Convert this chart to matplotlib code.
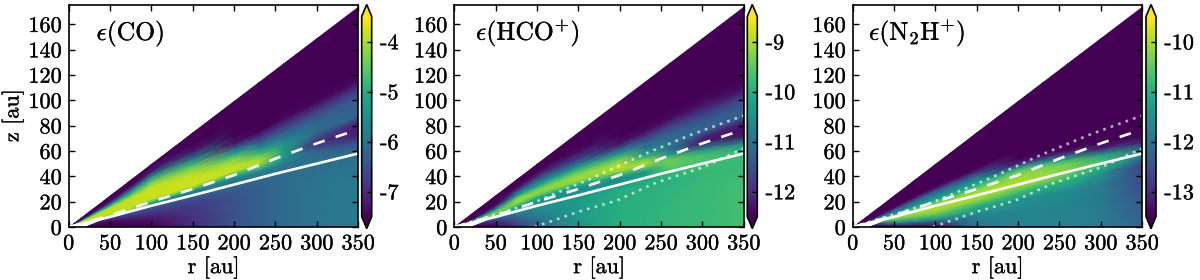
import numpy as np
import matplotlib
matplotlib.use("Agg")
import matplotlib.pyplot as plt
import matplotlib.patheffects as pe
from matplotlib.patches import Polygon

plt.rcParams['font.family'] = ['cmr10', 'DejaVu Serif']
plt.rcParams['mathtext.fontset'] = 'cm'
plt.rcParams['axes.unicode_minus'] = False
plt.rcParams['axes.formatter.use_mathtext'] = True

r_knots = [25, 50, 75, 100, 150, 200, 230, 260, 300, 350]
h_knots = [0, .06, .11, .14, .16, .175, .19, .205, .22, .235, .25, .27, .29, .31, .33, .36, .40, .44, .495]

# one list per r knot, running up the h knots
co = [
 [-7.5,-7.5,-7.3,-7.0,-6.0,-4.5,-4.0,-3.9,-3.9,-3.9,-3.9,-3.9,-3.9,-4.0,-4.8,-6.0,-7.3,-7.5,-7.5],
 [-7.5,-7.5,-7.2,-6.9,-6.0,-4.5,-4.0,-3.9,-3.9,-3.9,-3.9,-3.9,-3.9,-4.0,-4.6,-5.7,-7.2,-7.5,-7.5],
 [-7.5,-7.4,-7.0,-6.7,-6.2,-5.0,-4.0,-3.9,-3.85,-3.85,-3.85,-3.85,-3.85,-3.95,-4.4,-5.0,-6.5,-7.5,-7.5],
 [-7.5,-7.3,-6.9,-6.6,-6.4,-6.0,-5.4,-4.5,-3.9,-3.85,-3.8,-3.8,-3.8,-3.85,-4.0,-4.5,-5.7,-7.2,-7.5],
 [-7.0,-6.9,-6.8,-6.6,-6.3,-6.0,-5.6,-4.3,-3.8,-3.8,-3.8,-3.9,-4.0,-4.3,-4.8,-6.0,-7.3,-7.5,-7.5],
 [-6.5,-6.5,-6.5,-6.4,-6.2,-6.0,-5.8,-5.0,-3.9,-3.85,-4.0,-4.3,-5.2,-6.3,-7.3,-7.5,-7.5,-7.5,-7.5],
 [-6.3,-6.3,-6.3,-6.3,-6.2,-5.9,-5.7,-4.6,-3.95,-4.1,-4.7,-5.6,-6.3,-7.0,-7.5,-7.5,-7.5,-7.5,-7.5],
 [-6.1,-6.1,-6.1,-6.1,-6.1,-6.0,-5.9,-5.5,-5.3,-5.35,-5.5,-5.9,-6.4,-6.9,-7.4,-7.5,-7.5,-7.5,-7.5],
 [-5.95,-5.95,-5.95,-6.0,-6.05,-6.05,-6.1,-6.4,-7.0,-6.6,-6.1,-6.15,-6.4,-6.9,-7.45,-7.5,-7.5,-7.5,-7.5],
 [-5.85,-5.85,-5.9,-5.95,-6.05,-6.2,-6.45,-7.1,-7.2,-7.1,-6.3,-6.3,-6.4,-6.8,-7.4,-7.5,-7.5,-7.5,-7.5],
]
hco = [
 [-12.5,-12.4,-12.0,-11.5,-10.0,-9.3,-9.2,-9.3,-9.4,-9.8,-10.3,-11.2,-12.0,-12.4,-12.5,-12.5,-12.5,-12.5,-12.5],
 [-12.4,-12.2,-11.8,-11.2,-10.5,-9.8,-9.6,-9.4,-9.3,-9.3,-9.5,-10.0,-10.7,-11.4,-12.0,-12.5,-12.5,-12.5,-12.5],
 [-12.0,-11.5,-11.2,-10.8,-10.5,-10.4,-10.4,-10.3,-10.0,-9.5,-9.2,-9.1,-9.2,-9.6,-10.3,-11.0,-12.2,-12.5,-12.5],
 [-11.2,-11.0,-10.7,-10.6,-10.5,-10.5,-10.5,-10.4,-10.3,-10.0,-9.5,-9.2,-9.3,-9.7,-10.3,-11.0,-12.0,-12.5,-12.5],
 [-10.4,-10.3,-10.3,-10.3,-10.4,-10.5,-10.6,-10.5,-10.2,-9.5,-9.1,-9.1,-9.5,-10.1,-10.9,-11.8,-12.4,-12.5,-12.5],
 [-10.0,-10.0,-10.0,-10.0,-10.2,-10.4,-10.6,-10.0,-9.2,-8.85,-9.0,-9.5,-10.4,-11.5,-12.3,-12.5,-12.5,-12.5,-12.5],
 [-9.95,-9.95,-9.95,-10.0,-10.1,-10.3,-10.4,-9.4,-8.9,-9.6,-10.4,-10.9,-11.3,-11.9,-12.4,-12.5,-12.5,-12.5,-12.5],
 [-9.85,-9.85,-9.9,-9.95,-9.9,-9.6,-9.4,-9.4,-10.3,-11.0,-11.0,-11.1,-11.4,-11.9,-12.4,-12.5,-12.5,-12.5,-12.5],
 [-9.8,-9.8,-9.8,-9.85,-9.75,-9.6,-9.7,-10.6,-12.2,-12.1,-11.3,-11.3,-11.6,-12.1,-12.4,-12.5,-12.5,-12.5,-12.5],
 [-9.7,-9.7,-9.75,-9.8,-9.8,-9.9,-10.7,-12.3,-12.4,-12.2,-11.3,-11.4,-11.7,-12.3,-12.5,-12.5,-12.5,-12.5,-12.5],
]
nnh = [
 [-13.5,-13.4,-12.0,-10.8,-10.3,-10.3,-10.5,-11.0,-11.4,-11.8,-12.2,-12.8,-13.3,-13.5,-13.5,-13.5,-13.5,-13.5,-13.5],
 [-13.5,-12.0,-10.6,-10.2,-10.2,-10.4,-10.7,-11.1,-11.5,-11.8,-12.0,-12.4,-12.9,-13.3,-13.5,-13.5,-13.5,-13.5,-13.5],
 [-13.5,-11.6,-10.4,-10.1,-10.1,-10.3,-10.5,-10.9,-11.2,-11.5,-11.8,-12.1,-12.6,-13.2,-13.5,-13.5,-13.5,-13.5,-13.5],
 [-13.4,-11.6,-10.3,-10.0,-10.0,-10.1,-10.4,-10.8,-11.2,-11.5,-11.7,-12.1,-12.6,-13.3,-13.5,-13.5,-13.5,-13.5,-13.5],
 [-12.0,-11.7,-11.0,-10.2,-10.0,-10.0,-10.1,-10.5,-10.9,-11.3,-11.6,-12.2,-13.0,-13.5,-13.5,-13.5,-13.5,-13.5,-13.5],
 [-11.7,-11.7,-11.4,-10.7,-10.15,-10.0,-10.1,-10.2,-10.4,-11.5,-13.1,-13.5,-13.5,-13.5,-13.5,-13.5,-13.5,-13.5,-13.5],
 [-11.7,-11.7,-11.5,-10.9,-10.2,-10.1,-10.2,-10.3,-11.2,-12.8,-13.5,-13.5,-13.5,-13.5,-13.5,-13.5,-13.5,-13.5,-13.5],
 [-11.7,-11.75,-11.6,-11.0,-10.5,-10.3,-10.3,-11.0,-12.6,-13.5,-13.5,-13.5,-13.5,-13.5,-13.5,-13.5,-13.5,-13.5,-13.5],
 [-11.8,-11.85,-11.85,-11.5,-10.9,-10.7,-11.3,-13.1,-13.5,-13.5,-13.5,-13.5,-13.5,-13.5,-13.5,-13.5,-13.5,-13.5,-13.5],
 [-12.2,-12.4,-12.6,-12.7,-11.8,-11.9,-13.1,-13.5,-13.5,-13.5,-13.5,-13.5,-13.5,-13.5,-13.5,-13.5,-13.5,-13.5,-13.5],
]

line_r = [0, 50, 100, 150, 200, 250, 300, 350]
solid_z = [0, 8, 16.8, 25, 33.5, 42, 50, 58]
dashed_z = [0, 9, 20, 30, 41, 54, 66, 77]
dot_up_r = [0, 15, 95, 168, 228, 287, 350]
dot_up_z = [0, 3, 19, 39, 57, 73, 88]
dot_lo_r = [97, 150, 197, 244, 300, 350]
dot_lo_z = [0, 12, 21, 35, 47, 62]

titles = [r'$\epsilon(\mathrm{CO})$', r'$\epsilon(\mathrm{HCO}^{+})$', r'$\epsilon(\mathrm{N}_{2}\mathrm{H}^{+})$']
tables = [co, hco, nnh]
vlims = [(-7.5, -3.5), (-12.5, -8.5), (-13.5, -9.5)]
cticks = [[-7, -6, -5, -4], [-12, -11, -10, -9], [-13, -12, -11, -10]]
xt = [0, 50, 100, 150, 200, 250, 300, 350]
yt = [0, 20, 40, 60, 80, 100, 120, 140, 160]

W, H = 1200, 280
ax_left = [68.7, 454.3, 852.7]
ax_w = 289.5
ax_top, ax_bot = 4.7, 227.0
cb_left = [361.7, 747.3, 1146.0]
cb_w = 10.0
cb_top, cb_bot = 4.5, 228.5
title_x = [96.5, 476, 869]
fs = 16
heavy = [pe.withStroke(linewidth=0.2, foreground='black')]

fig = plt.figure(figsize=(12, 2.8), dpi=100)
r_full = np.array([0] + r_knots, float)
h_arr = np.array(h_knots)
X, H_g = np.meshgrid(r_full, h_arr)
Y = X * H_g

for i in range(3):
    ax = fig.add_axes([ax_left[i]/W, 1-ax_bot/H, ax_w/W, (ax_bot-ax_top)/H])
    v = np.array(tables[i], float).T
    Z = np.column_stack([v[:, 0], v])
    m = ax.pcolormesh(X, Y, Z, shading='gouraud', cmap='viridis', vmin=vlims[i][0], vmax=vlims[i][1])
    clip = Polygon([(0, 0), (50, 8), (20, 0), (350, 0), (350, 175)], transform=ax.transData)
    m.set_clip_path(clip)
    ax.plot(line_r, solid_z, color='white', lw=1.9)
    ax.plot(line_r, dashed_z, color='white', lw=1.9, linestyle=(0, (4.5, 4.4)), dash_capstyle='butt')
    if i > 0:
        ax.plot(dot_up_r, dot_up_z, color='white', alpha=0.65, lw=1.9, linestyle=(0, (1.0, 2.0)))
        ax.plot(dot_lo_r, dot_lo_z, color='white', alpha=0.65, lw=1.9, linestyle=(0, (1.0, 2.0)))
    ax.set_xlim(0, 350)
    ax.set_ylim(0, 175.4)
    ax.set_xticks(xt)
    ax.set_yticks(yt)
    ax.set_xticklabels([str(t) for t in xt], fontsize=fs, path_effects=heavy)
    ax.set_yticklabels([str(t) for t in yt], fontsize=fs, path_effects=heavy)
    ax.tick_params(direction='in', top=True, right=True, length=4, width=1.0, pad=5)
    for s in ax.spines.values():
        s.set_linewidth(1.2)
    ax.set_xlabel('r [au]', fontsize=fs, labelpad=2, path_effects=heavy)
    if i == 0:
        ax.set_ylabel('z [au]', fontsize=fs, labelpad=3, path_effects=heavy)
    fig.text(title_x[i]/W, 1-40/H, titles[i], fontsize=18.4, color='black', path_effects=heavy)

    cax = fig.add_axes([cb_left[i]/W, 1-cb_bot/H, cb_w/W, (cb_bot-cb_top)/H])
    cb = fig.colorbar(m, cax=cax, extend='both', extendfrac=0.06)
    cb.set_ticks(cticks[i])
    cb.set_ticklabels([str(t) for t in cticks[i]], fontsize=fs, path_effects=heavy)
    cb.ax.tick_params(direction='in', length=3.5, width=1.0, pad=6, right=True)
    cb.outline.set_linewidth(1.2)

fig.savefig('out.png', dpi=100)
